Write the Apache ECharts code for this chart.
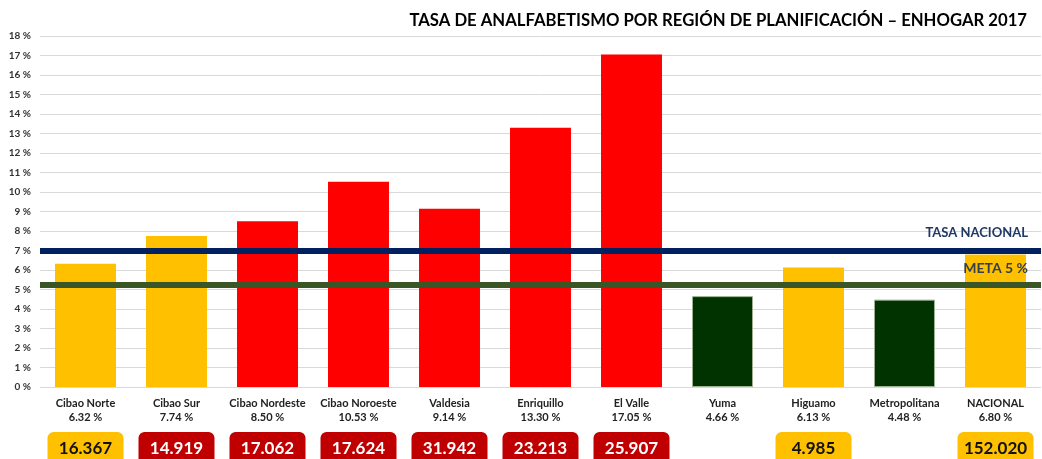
<!DOCTYPE html>
<html>
<head>
<meta charset="utf-8">
<script src="https://cdn.jsdelivr.net/npm/echarts@6/dist/echarts.min.js"></script>
<style>
  html, body { margin: 0; padding: 0; background: #ffffff; }
  #chart { width: 1042px; height: 459px; }
</style>
</head>
<body>
<div id="chart"></div>
<script>
// datos
const regions = ['Cibao Norte', 'Cibao Sur', 'Cibao Nordeste', 'Cibao Noroeste', 'Valdesia', 'Enriquillo', 'El Valle', 'Yuma', 'Higuamo', 'Metropolitana', 'NACIONAL']
const rates = [6.32, 7.74, 8.50, 10.53, 9.14, 13.30, 17.05, 4.66, 6.13, 4.48, 6.80]
const counts = ['16.367', '14.919', '17.062', '17.624', '31.942', '23.213', '25.907', '', '4.985', '', '152.020']
const countLevel = ['media', 'alta', 'alta', 'alta', 'alta', 'alta', 'alta', '', 'media', '', 'media']
const tasaNacional = 7.0
const meta = 5.25

const YELLOW = '#FFC000'
const RED = '#FF0000'
const GREEN = '#003300'
const FONT = 'Lato, Open Sans, sans-serif'

function barColor(v) {
  if (v < 5) return GREEN
  if (v < 8) return YELLOW
  return RED
}

const boxStyle = {
  fontFamily: FONT,
  fontWeight: 'bold',
  fontSize: 17,
  borderRadius: 6,
  width: 76,
  height: 34,
  lineHeight: 50,
  align: 'center'
}

const chart = echarts.init(document.getElementById('chart'))

chart.setOption({
  animation: false,
  backgroundColor: '#ffffff',
  title: {
    text: 'TASA DE ANALFABETISMO POR REGIÓN DE PLANIFICACIÓN – ENHOGAR 2017',
    right: 10,
    top: 7,
    textStyle: {
      fontFamily: FONT,
      fontWeight: 'bold',
      fontSize: 16.7,
      color: '#000000'
    }
  },
  grid: {
    left: 40,
    right: 1,
    top: 36,
    bottom: 72,
    outerBoundsMode: 'none'
  },
  xAxis: {
    type: 'category',
    data: regions,
    axisLine: { show: false },
    axisTick: { show: false },
    axisLabel: {
      interval: 0,
      margin: 9,
      formatter: function (name, i) {
        const rate = rates[i].toFixed(2) + ' %'
        const c = counts[i]
        let box = '{e| }'
        if (c) {
          box = countLevel[i] === 'alta' ? '{r|' + c + '}' : '{y|' + c + '}'
        }
        return '{n|' + name + '}\n{n|' + rate + '}\n' + box
      },
      rich: {
        n: {
          fontFamily: FONT,
          fontWeight: 'bold',
          fontSize: 11,
          lineHeight: 14,
          color: '#222222',
          align: 'center'
        },
        y: Object.assign({}, boxStyle, { color: '#111111', backgroundColor: YELLOW }),
        r: Object.assign({}, boxStyle, { color: '#ffffff', backgroundColor: '#C00000' }),
        e: {
          width: 76,
          height: 34,
          lineHeight: 50
        }
      }
    }
  },
  yAxis: {
    type: 'value',
    min: 0,
    max: 18,
    interval: 1,
    axisLine: { show: false },
    axisTick: { show: false },
    axisLabel: {
      margin: 9,
      formatter: '{value} %',
      fontFamily: FONT,
      fontWeight: 'bold',
      fontSize: 10,
      color: '#333333'
    },
    splitLine: {
      lineStyle: { color: '#D9D9D9', width: 1 }
    }
  },
  series: [{
    type: 'bar',
    barWidth: '67%',
    data: rates.map(v => ({
      value: v,
      itemStyle: {
        color: barColor(v),
        borderColor: barColor(v) === GREEN ? '#9DB08F' : 'transparent',
        borderWidth: barColor(v) === GREEN ? 1 : 0
      }
    })),
    markLine: {
      symbol: 'none',
      silent: true,
      data: [
        {
          yAxis: tasaNacional,
          lineStyle: { color: '#002060', width: 6, type: 'solid' },
          label: {
            formatter: 'TASA NACIONAL',
            position: 'insideEndTop',
            distance: [13, 11],
            fontFamily: FONT,
            fontWeight: 'bold',
            fontSize: 13,
            color: '#1F3864'
          }
        },
        {
          yAxis: meta,
          lineStyle: { color: '#3A5626', width: 6, type: 'solid' },
          label: {
            formatter: 'META 5 %',
            position: 'insideEndTop',
            distance: [13, 9],
            fontFamily: FONT,
            fontWeight: 'bold',
            fontSize: 14,
            color: '#333F50'
          }
        }
      ]
    }
  }]
})
</script>
</body>
</html>
